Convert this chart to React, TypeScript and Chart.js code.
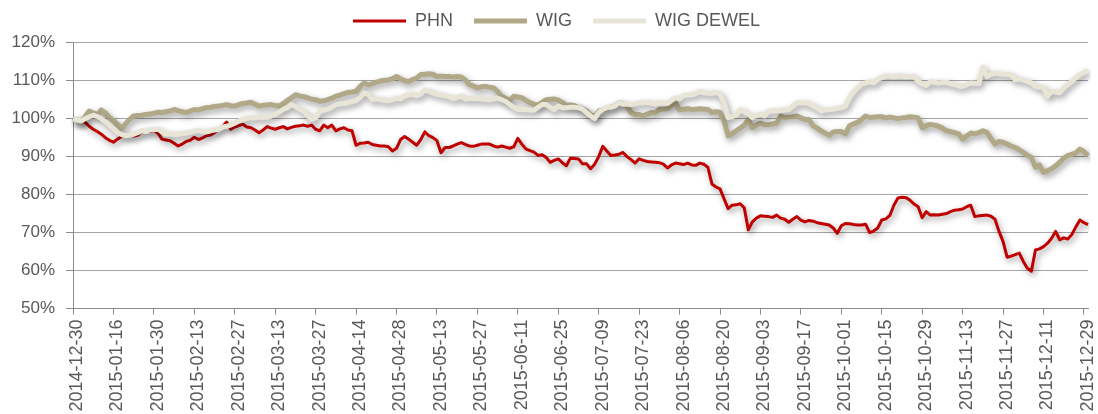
import React, { useEffect, useRef } from "react";
import { Chart, registerables } from "chart.js";

Chart.register(...registerables);

// ---- categories: GPW trading days from 2014-12-30 to 2015-12-30 ----
const FIRST_DAY = "2014-12-30";
const LAST_DAY = "2015-12-30";
const MARKET_HOLIDAYS = [
  "2014-12-31", "2015-01-01", "2015-01-06", "2015-04-03", "2015-04-06",
  "2015-05-01", "2015-06-04", "2015-11-11", "2015-12-24", "2015-12-25", "2015-12-31",
];
const TICK_EVERY = 10;

function buildTradingDays(): string[] {
  const out: string[] = [];
  const d = new Date(FIRST_DAY + "T00:00:00Z");
  const end = new Date(LAST_DAY + "T00:00:00Z").getTime();
  while (d.getTime() <= end) {
    const dow = d.getUTCDay();
    const s = d.toISOString().slice(0, 10);
    if (dow !== 0 && dow !== 6 && !MARKET_HOLIDAYS.includes(s)) out.push(s);
    d.setUTCDate(d.getUTCDate() + 1);
  }
  return out;
}
const DATES = buildTradingDays();

// ---- series (% of start value) ----
const PHN = [
  100, 99.6, 99.1, 99, 98, 97.2, 96.6, 95.9, 95, 94.3,
  93.8, 94.6, 95.3, 95.5, 95.7, 95.4, 95.6, 96.5, 96.8, 96.6,
  96.8, 96.2, 94.6, 94.4, 94.2, 93.5, 92.8, 93.3, 94, 94.3,
  95.1, 94.5, 94.9, 95.5, 95.7, 96.3, 97.2, 98, 99.1, 97.2,
  97.8, 98.2, 98.5, 97.8, 97.6, 97, 96.3, 97, 97.9, 97.5,
  97.2, 97.6, 97.9, 97.3, 97.7, 98, 98.1, 98.3, 98, 98.3,
  97.2, 96.8, 98.3, 97.6, 98.3, 96.8, 97.3, 97.6, 97, 96.8,
  93, 93.5, 93.6, 93.8, 93.2, 93, 92.8, 92.8, 92.6, 91.5,
  92.2, 94.5, 95.3, 94.6, 93.8, 93, 94.5, 96.5, 95.5, 95,
  94.2, 91, 92.4, 92.4, 92.8, 93.3, 93.7, 93.2, 92.8, 92.7,
  93, 93.3, 93.3, 93.3, 92.8, 92.5, 92.8, 92.5, 92.2, 92.6,
  94.8, 93.3, 92, 91.6, 91.2, 90.3, 90.5, 89.8, 88.5, 89,
  89.4, 88.4, 87.6, 89.6, 89.5, 89.4, 88.1, 88.1, 86.8, 88,
  90, 92.7, 91.5, 90.3, 90.4, 90.6, 91.1, 90, 89.2, 88.3,
  89.4, 89, 88.7, 88.6, 88.5, 88.4, 88, 87, 87.8, 88.3,
  88.1, 87.9, 88.3, 87.8, 87.7, 88.3, 88, 87.2, 82.8, 82,
  81.5, 78.9, 76.3, 77.2, 77.3, 77.6, 76.5, 70.7, 72.8, 73.8,
  74.4, 74.3, 74.2, 74, 74.6, 73.8, 73.5, 72.7, 73.5, 74.2,
  73.3, 72.8, 73.2, 73, 72.6, 72.4, 72.2, 72, 71.2, 69.8,
  71.8, 72.4, 72.3, 72.1, 72, 72, 72.2, 70, 70.4, 71.2,
  73.3, 73.6, 74.5, 77.2, 79.1, 79.3, 79.2, 78.5, 77.5, 76.8,
  73.9, 75.5, 74.6, 74.7, 74.6, 74.8, 75, 75.5, 75.9, 76,
  76.2, 76.8, 77.2, 74.2, 74.4, 74.5, 74.6, 74.3, 73.5, 70.3,
  67.6, 63.5, 63.8, 64.2, 64.6, 62.4, 60.6, 59.8, 65.4, 65.7,
  66.3, 67.2, 68.5, 70.3, 68.1, 68.6, 68.3, 69.5, 71.5, 73.3,
  72.6, 72.1,
];

const WIG = [
  100, 99.6, 99, 100.5, 102, 101.5, 101, 102.3, 101.5, 100.3,
  99.5, 98.5, 97.4, 98.6, 99.8, 100.7, 100.8, 100.9, 101.1, 101.2,
  101.4, 101.7, 101.6, 101.8, 102, 102.4, 102.1, 101.8, 101.6, 102,
  102.4, 102.3, 102.6, 102.9, 103, 103.2, 103.3, 103.5, 103.7, 103.4,
  103.3, 103.7, 104, 104.1, 104.3, 103.8, 103.3, 103.5, 103.6, 103.7,
  103.5, 103.3, 104, 104.8, 105.5, 106.3, 106, 105.8, 105.5, 105.1,
  105, 104.6, 104.7, 105, 105.4, 105.9, 106.2, 106.6, 106.9, 107,
  107.2, 108.5, 109.4, 108.9, 109.2, 109.6, 109.9, 110.1, 110.2, 110.5,
  111.1, 110.5, 110, 109.8, 110.3, 110.7, 111.6, 111.7, 111.8, 111.7,
  111.1, 111.2, 111.1, 111.1, 111, 111.1, 111, 110.2, 109, 108.6,
  108.1, 108.4, 108.5, 108.3, 108.1, 107.2, 105.9, 105.4, 104.8, 105.9,
  105.7, 105.5, 104.8, 104.2, 103.8, 103.5, 104.3, 105, 105.1, 105.2,
  104.9, 104.3, 103.5, 103.6, 103.4, 102.9, 102.6, 102, 101, 100.3,
  102, 102.3, 102.6, 103, 103.3, 104.2, 103.8, 103.3, 101.6, 101.1,
  101.1, 100.7, 101.2, 101.6, 101.5, 102.4, 102.5, 102.6, 103.5, 104.2,
  102.3, 102.5, 102.6, 102.4, 102.5, 102.6, 102.5, 102.4, 101.6, 101.8,
  101.6, 99.4, 95.5, 96, 96.8, 97.5, 98.3, 99.8, 97.6, 98.4,
  98.8, 98.4, 98.4, 98.6, 98.8, 100.7, 100.3, 100.4, 100.5, 100.7,
  100.2, 99.8, 99.8, 98.1, 97.5, 96.8, 96.2, 95.6, 96.5, 96.6,
  96.6, 96, 98.1, 98.6, 99, 99.8, 100.7, 100.3, 100.4, 100.5,
  100.5, 100.2, 100.4, 100.2, 100, 100.2, 100.3, 100.5, 100.4, 100.2,
  97.6, 98.2, 98.5, 98.3, 98, 97.5, 96.8, 96.6, 96.3, 96,
  94.6, 95.5, 96.2, 96, 96.3, 96.8, 96.4, 94.8, 93.3, 94,
  93.8, 93.3, 92.8, 92.4, 91.8, 91.1, 90.4, 89.8, 87.2, 87.8,
  85.9, 86.3, 86.8, 87.6, 88.5, 89.6, 90.3, 90.6, 91, 92,
  91.3, 90.3,
];

const WIG_DEWEL = [
  100, 99.6, 99.4, 100, 100.5, 100.9, 100.6, 100, 99.2, 98.3,
  97.3, 96.3, 95.8, 95.5, 95.7, 95.9, 96.3, 96.8, 96.6, 97,
  97.1, 97.2, 96.5, 95.9, 96, 95.8, 95.9, 96, 96.2, 96.4,
  96.7, 96.9, 96.6, 96.5, 96.8, 97, 97.2, 97.8, 98, 98.3,
  98.8, 99.4, 99.8, 100.1, 100.3, 100.2, 100.4, 100.3, 100.4, 100.7,
  101.1, 101.8, 102.4, 102.9, 103.7, 103.2, 102.5, 102, 100.8, 99.8,
  100.2, 102, 102.2, 102.5, 103, 103.7, 103.9, 104, 104.2, 104.5,
  104.8, 105.6, 106.8, 106.4, 105, 105.2, 105.1, 104.8, 104.7, 105,
  105.4, 105.2, 106, 106.3, 106.4, 106, 106.5, 107.6, 107.2, 106.8,
  106.4, 106.2, 106, 105.8, 105.2, 105.6, 106, 105.2, 105.3, 105.4,
  105.3, 105.2, 105.1, 105, 105.2, 105.4, 105, 104.5, 103.7, 103,
  102.4, 102.4, 102.4, 102.3, 102.2, 103, 103.7, 103.7, 103, 102.4,
  103.3, 102.9, 102.9, 103, 103, 102.9, 102.5, 101.6, 100.7, 100,
  101.6, 102.4, 102.9, 103, 103.3, 104.2, 103.8, 103.8, 103.7, 103.9,
  104.2, 104.2, 104.3, 104.1, 103.8, 104.2, 104.1, 104, 104.8, 105.5,
  105.2, 106.1, 106.2, 106.3, 106.6, 107.2, 106.8, 106.7, 106.7, 106.9,
  106.5, 104.2, 100.3, 100.5, 100.9, 102.4, 101.8, 101.2, 100.3, 100.8,
  101.2, 100.7, 102, 102.1, 102, 102.2, 102.3, 102.4, 103.3, 104.2,
  104.2, 104.2, 104, 103.3, 102.8, 102, 102.3, 102.4, 102.5, 102.7,
  102.9, 103.3, 105.5, 107, 108.1, 109.2, 109.4, 109.8, 109.4, 110.4,
  110.8, 111.3, 111.2, 111, 111.3, 111.2, 111, 111.1, 111.1, 109.8,
  109.2, 108.7, 109.8, 109.6, 109.4, 109.5, 109.6, 109.2, 109, 108.6,
  108.5, 109, 109.4, 109.3, 109.2, 113.6, 111.1, 111.6, 112, 111.8,
  111.7, 111.7, 111.5, 110.3, 110.4, 110.2, 109.8, 109.4, 108.5, 108.3,
  108.3, 105.9, 107.2, 107, 106.8, 108.1, 109, 109.8, 110.8, 111.6,
  112.2, 112.7,
];

const Y_MIN = 50;
const Y_MAX = 120;
const Y_STEP = 10;

const FONT = "'Liberation Sans', Arial, sans-serif";
const TEXT_COLOR = "#595959";

const lineShadow = {
  id: "lineShadow",
  beforeDatasetDraw(chart: any) {
    const c = chart.ctx;
    c.save();
    c.shadowColor = "rgba(0,0,0,0.4)";
    c.shadowBlur = 6;
    c.shadowOffsetX = 2;
    c.shadowOffsetY = 3;
  },
  afterDatasetDraw(chart: any) {
    chart.ctx.restore();
  },
};

// the legend in the original sits a little right of the canvas centre
const legendNudge = {
  id: "legendNudge",
  afterLayout(chart: any) {
    const l = chart.legend;
    if (!l) return;
    l.left += 12.5;
    l.right += 12.5;
    l.top += 1.5;
    l.bottom += 1.5;
  },
};

export default function App() {
  const ref = useRef<HTMLCanvasElement>(null);

  useEffect(() => {
    if (!ref.current) return;
    Chart.defaults.font.family = FONT;
    const chart = new Chart(ref.current, {
      type: "line",
      data: {
        labels: DATES,
        datasets: [
          {
            label: "PHN",
            data: PHN,
            borderColor: "#C00000",
            backgroundColor: "#C00000",
            borderWidth: 3,
            pointRadius: 0,
            tension: 0,
            borderJoinStyle: "round",
            order: 3,
          },
          {
            label: "WIG",
            data: WIG,
            borderColor: "#B0A886",
            backgroundColor: "#B0A886",
            borderWidth: 5,
            pointRadius: 0,
            tension: 0,
            borderJoinStyle: "round",
            order: 2,
          },
          {
            label: "WIG DEWEL",
            data: WIG_DEWEL,
            borderColor: "#E8E5D7",
            backgroundColor: "#E8E5D7",
            borderWidth: 5,
            pointRadius: 0,
            tension: 0,
            borderJoinStyle: "round",
            order: 1,
          },
        ],
      },
      options: {
        responsive: false,
        animation: false,
        devicePixelRatio: 1,
        events: [],
        layout: { padding: { top: -10.5, left: 0, right: 10, bottom: 0 } },
        plugins: {
          tooltip: { enabled: false },
          legend: {
            position: "top",
            labels: {
              usePointStyle: true,
              pointStyle: "line",
              pointStyleWidth: 53,
              padding: 21,
              color: TEXT_COLOR,
              font: { size: 18, family: FONT },
              sort: (a: any, b: any) => a.datasetIndex - b.datasetIndex,
            },
          },
          title: {
            display: true,
            text: "",
            weight: 500,
            padding: 0,
            font: { size: 3.5 },
          } as any,
        },
        scales: {
          x: {
            type: "category",
            offset: false,
            grid: {
              display: true,
              drawOnChartArea: false,
              drawTicks: true,
              tickLength: 6,
              color: "#8C8C8C",
            },
            border: { display: true, color: "#8C8C8C" },
            ticks: {
              autoSkip: false,
              minRotation: 90,
              maxRotation: 90,
              padding: 5,
              labelOffset: 4,
              color: TEXT_COLOR,
              font: { size: 18, family: FONT },
            },
            afterBuildTicks: (scale: any) => {
              scale.ticks = scale.ticks.filter((t: any) => t.value % TICK_EVERY === 0);
            },
            afterFit: (scale: any) => {
              scale.height = 105.5;
              scale.paddingLeft = 0;
              scale.paddingRight = 0;
            },
          },
          y: {
            min: Y_MIN,
            max: Y_MAX,
            grid: {
              color: "#A6A6A6",
              drawTicks: true,
              tickLength: 7,
              tickColor: "#8C8C8C",
            },
            border: { display: true, color: "#8C8C8C" },
            ticks: {
              stepSize: Y_STEP,
              padding: 11,
              color: TEXT_COLOR,
              font: { size: 17, family: FONT },
              callback: (v: any) => `${v}%`,
            },
            afterFit: (scale: any) => {
              scale.width = 73;
            },
          },
        },
      },
      plugins: [lineShadow, legendNudge],
    } as any);
    return () => chart.destroy();
  }, []);

  return (
    <div
      style={{
        position: "fixed",
        left: 0,
        top: 0,
        width: 1098,
        height: 414,
        overflow: "hidden",
        background: "#fff",
      }}
    >
      <canvas ref={ref} width={1098} height={414} style={{ display: "block", width: 1098, height: 414 }} />
    </div>
  );
}
